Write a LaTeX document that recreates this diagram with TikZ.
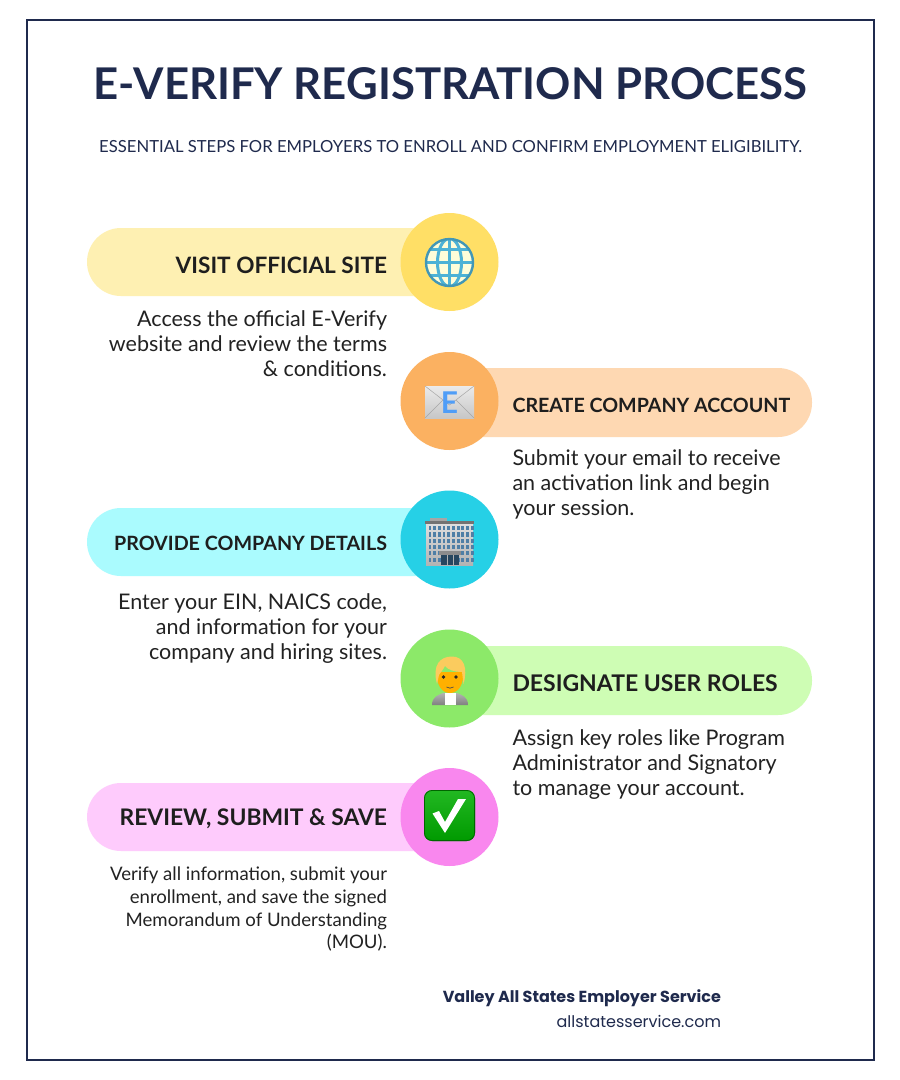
\documentclass[tikz,border=0pt]{standalone}
\usepackage{fontspec}
\setmainfont{Lato}
\newfontfamily\footfont{Poppins}
\definecolor{navy}{HTML}{1F2A4D}
\definecolor{ink}{HTML}{222222}
\definecolor{head}{HTML}{1E1E1E}
\definecolor{pillA}{HTML}{FEF0B2}
\definecolor{discA}{HTML}{FFDF66}
\definecolor{pillB}{HTML}{FED8B2}
\definecolor{discB}{HTML}{FBB161}
\definecolor{pillC}{HTML}{AAFBFE}
\definecolor{discC}{HTML}{26D0E6}
\definecolor{pillD}{HTML}{CEFDB4}
\definecolor{discD}{HTML}{8CE969}
\definecolor{pillE}{HTML}{FECBFC}
\definecolor{discE}{HTML}{F987EE}
\definecolor{globeblue}{HTML}{4DB2D6}
\definecolor{mailblue}{HTML}{4F9DF7}
\definecolor{hair}{HTML}{FBCB5E}
\definecolor{skin}{HTML}{FFB000}
\definecolor{windowblue}{HTML}{4F7FA6}
\definecolor{doorblue}{HTML}{27465E}
\definecolor{checktop}{HTML}{22B822}
\definecolor{checkbot}{HTML}{009A00}
\newcommand{\fsize}[1]{\fontsize{#1}{#1}\selectfont}
\begin{document}
\begin{tikzpicture}[x=1pt, y=-1pt,
    every node/.style = {inner sep=0pt, outer sep=0pt},
    pillbox/.style = {rounded corners=34pt},
    disc/.style = {shape=circle, minimum size=98pt},
    headleft/.style = {anchor=east, text=head, font=\bfseries\fsize{#1}},
    headright/.style = {anchor=west, text=head, font=\bfseries\fsize{#1}},
    textleft/.style = {anchor=north east, align=right, text=ink, font=\fontsize{21.5}{25}\selectfont},
    textright/.style = {anchor=north west, align=left, text=ink, font=\fontsize{21.5}{25}\selectfont}]
    \useasboundingbox (0,0) rectangle (900,1080);
    \fill[white] (0,0) rectangle (900,1080);
    \draw[navy, line width=2.4pt] (27,20) rectangle (874,1060);

    \node[text=navy, font=\bfseries\fsize{43.7}] (title) at (450.5,84) {E-VERIFY REGISTRATION PROCESS};
    \node[text=navy, font=\fsize{16.65}] (subtitle) at (450.5,146.5) {ESSENTIAL STEPS FOR EMPLOYERS TO ENROLL AND CONFIRM EMPLOYMENT ELIGIBILITY.};

    % bars
    \fill[pillA, pillbox] (87,228) rectangle (480,296);
    \fill[pillB, pillbox] (420,368) rectangle (812,437);
    \fill[pillC, pillbox] (87,508) rectangle (480,576);
    \fill[pillD, pillbox] (420,646) rectangle (812,715);
    \fill[pillE, pillbox] (87,783) rectangle (480,851);

    % discs
    \node[disc, fill=discA] (site) at (449.5,262) {};
    \node[disc, fill=discB] (account) at (449.5,401) {};
    \node[disc, fill=discC] (details) at (449.5,539.5) {};
    \node[disc, fill=discD] (roles) at (449.5,678.5) {};
    \node[disc, fill=discE] (review) at (449.5,817) {};

    % globe
    \begin{scope}[shift={(449.5,262.5)}]
      \fill[white!85!yellow] (0,0) circle (24);
      \begin{scope}
        \clip (0,0) circle (24);
        \draw[globeblue, line width=3pt] (0,-24) -- (0,24) (-24,-13) -- (24,-13) (-24,0) -- (24,0) (-24,13) -- (24,13);
        \draw[globeblue, line width=3pt] (0,0) ellipse (12 and 24);
      \end{scope}
      \draw[globeblue!85!black, line width=2.4pt] (0,0) circle (23.5);
    \end{scope}

    % envelope
    \shade[top color=white!92!black, bottom color=white!78!black] (425,386) rectangle (474,418);
    \draw[black!35, line width=0.5pt] (425,386) -- (449.5,405) -- (474,386) (425,418) -- (443,400) (474,418) -- (456,400);
    \node[text=mailblue, font=\bfseries\fsize{30}] (mailE) at (449.5,403) {E};

    % building
    \fill[black!35] (430,518) rectangle (447,522);
    \shade[top color=black!12, bottom color=black!30] (426,522) rectangle (473,565);
    \fill[black!55] (425,521) rectangle (474,523.5);
    \foreach \col in {0,...,9} {
      \foreach \row in {0,...,5} {
        \fill[windowblue] ({428.5+\col*4.7},{526+\row*6.3}) rectangle ++(2.8,4.2);
      }
    }
    \fill[black!45] (439,551) rectangle (461,555);
    \fill[doorblue] (441,555) rectangle (459,565);
    \draw[white!70!black, line width=0.6pt] (447,555) -- (447,565) (453,555) -- (453,565);

    % person
    \shade[top color=black!30, bottom color=black!50] (432,705) .. controls (432,697) and (438,695) .. (443,693) -- (457,693) .. controls (462,695) and (468,697) .. (468,705) -- cycle;
    \fill[white] (444.5,705) -- (444.5,693) -- (455.5,693) -- (455.5,705) -- cycle;
    \fill[skin] (450,693) .. controls (441,693) and (436.5,684) .. (436.5,672) -- (463.5,672) .. controls (463.5,684) and (459,693) .. (450,693) -- cycle;
    \fill[hair] (437,684) .. controls (432,665) and (440,656.5) .. (452,656.5) .. controls (464,656.5) and (468,668) .. (463.5,684) -- (462,672) .. controls (455,672) and (448,670) .. (445,666) .. controls (443,670) and (440,673) .. (439,675) -- cycle;
    \fill[black!85] (443.5,677) circle (1.8) (456,677) circle (1.8);
    \draw[black!70, line width=0.7pt] (446.5,687) .. controls (449,688.5) and (451,688.5) .. (453.5,687);

    % check
    \shade[rounded corners=8pt, top color=checktop, bottom color=checkbot] (424,790) rectangle (475,841);
    \draw[green!40!black, rounded corners=8pt, line width=0.8pt] (424.4,790.4) rectangle (474.6,840.6);
    \fill[white] (432.5,813.5) -- (439,811) -- (445,822) -- (458,799) -- (466,799) -- (445,833) -- cycle;

    % headings
    \node[headleft=22.6] (site-head) at (387,265) {VISIT OFFICIAL SITE};
    \node[headright=19.65] (account-head) at (512.5,405) {CREATE COMPANY ACCOUNT};
    \node[headleft=19.7] (details-head) at (387,543) {PROVIDE COMPANY DETAILS};
    \node[headright=22.95] (roles-head) at (512.5,683) {DESIGNATE USER ROLES};
    \node[headleft=22.85] (review-head) at (387,819) {REVIEW, SUBMIT \& SAVE};

    % descriptions
    \node[textleft] (site-text) at (387,311) {Access the official E-Verify\\website and review the terms\\\& conditions.};
    \node[textright] (account-text) at (512.5,450) {Submit your email to receive\\an activation link and begin\\your session.};
    \node[textleft] (details-text) at (387,594) {Enter your EIN, NAICS code,\\and information for your\\company and hiring sites.};
    \node[textright] (roles-text) at (512.5,730) {Assign key roles like Program\\Administrator and Signatory\\to manage your account.};
    \node[textleft, font=\fontsize{18.6}{22.7}\selectfont] (review-text) at (387,867) {Verify all information, submit your\\enrollment, and save the signed\\Memorandum of Understanding\\(MOU).};

    % footer
    \node[anchor=east, text=navy, font=\footfont\bfseries\fsize{16}] (company) at (721,998) {Valley All States Employer Service};
    \node[anchor=east, text=navy, font=\footfont\fsize{16}] (web) at (721,1021) {allstatesservice.com};
\end{tikzpicture}
\end{document}
